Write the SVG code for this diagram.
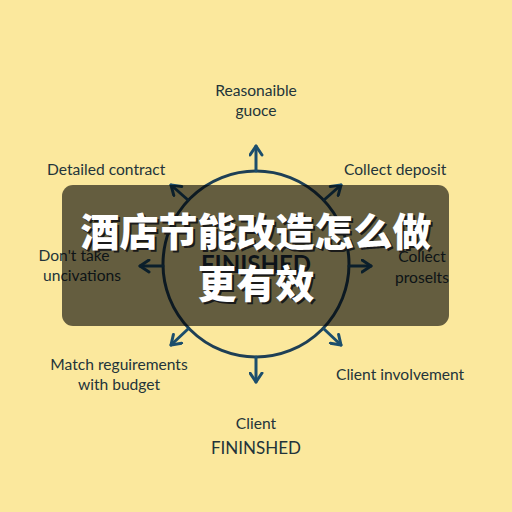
<svg xmlns="http://www.w3.org/2000/svg" width="512" height="512" viewBox="0 0 512 512">
<defs>
<style>
.lbl{font-family:Lato,"Open Sans","Liberation Sans",sans-serif;font-size:15.6px;fill:#23343a;}
.arr{stroke:#1c4e6c;stroke-width:3;fill:none;stroke-linecap:round;stroke-linejoin:round;}
.zh{font-family:"Noto Sans CJK SC","Noto Sans CJK JP",sans-serif;font-weight:900;font-size:39px;fill:#ffffff;text-anchor:middle;}
.zhs{font-family:"Noto Sans CJK SC","Noto Sans CJK JP",sans-serif;font-weight:900;font-size:39px;fill:#1a1a1a;text-anchor:middle;}
</style>
<marker id="ah" viewBox="0 0 10 10" refX="7" refY="5" markerWidth="5" markerHeight="5" orient="auto" markerUnits="strokeWidth">
<path d="M1,1 L7,5 L1,9" fill="none" stroke="#1c4e6c" stroke-width="2" stroke-linecap="round" stroke-linejoin="round"/>
</marker>
</defs>
<rect width="512" height="512" fill="#fbe89d"/>
<g id="hub">
<circle cx="256" cy="264" r="93" fill="none" stroke="#1e3f55" stroke-width="3"/>
<text x="256" y="273" text-anchor="middle" style="font-family:Lato,'Liberation Sans',sans-serif;font-size:24px;font-weight:bold;fill:#1e3040">FINISHED</text>
</g>
<g id="connectors">
<line class="arr" x1="256" y1="171" x2="256" y2="146" marker-end="url(#ah)"/>
<line class="arr" x1="256" y1="357" x2="256" y2="382" marker-end="url(#ah)"/>
<line class="arr" x1="163" y1="266" x2="140" y2="266" marker-end="url(#ah)"/>
<line class="arr" x1="349" y1="266" x2="371" y2="266" marker-end="url(#ah)"/>
<line class="arr" x1="188" y1="200" x2="171" y2="185" marker-end="url(#ah)"/>
<line class="arr" x1="324" y1="200" x2="341" y2="185" marker-end="url(#ah)"/>
<line class="arr" x1="188" y1="329" x2="171" y2="345" marker-end="url(#ah)"/>
<line class="arr" x1="324" y1="329" x2="341" y2="345" marker-end="url(#ah)"/>
</g>
<g id="n-top"><text class="lbl" x="256" y="96" text-anchor="middle">Reasonaible</text><text class="lbl" x="256" y="116" text-anchor="middle">guoce</text></g>
<g id="n-tl"><text class="lbl" x="47" y="175">Detailed contract</text></g>
<g id="n-tr"><text class="lbl" x="344" y="175">Collect deposit</text></g>
<g id="n-l"><text class="lbl" x="74" y="261" text-anchor="middle">Don't take</text><text class="lbl" x="82" y="281" text-anchor="middle">uncivations</text></g>
<g id="n-r"><text class="lbl" x="422" y="262" text-anchor="middle">Collect</text><text class="lbl" x="422" y="283" text-anchor="middle">proselts</text></g>
<g id="n-bl"><text class="lbl" x="119" y="370" text-anchor="middle">Match reguirements</text><text class="lbl" x="119" y="390" text-anchor="middle">with budget</text></g>
<g id="n-br"><text class="lbl" x="336" y="380">Client involvement</text></g>
<g id="n-bottom"><text class="lbl" x="256" y="429" text-anchor="middle">Client</text><text class="lbl" x="256" y="454" text-anchor="middle" style="font-size:17px">FININSHED</text></g>
<g id="overlay">
<rect x="62" y="185" width="387" height="141" rx="11" fill="#000" fill-opacity="0.6"/>
<text class="zhs" x="258" y="248">酒店节能改造怎么做</text>
<text class="zhs" x="258" y="300">更有效</text>
<text class="zh" x="256" y="246">酒店节能改造怎么做</text>
<text class="zh" x="256" y="298">更有效</text>
</g>
</svg>
